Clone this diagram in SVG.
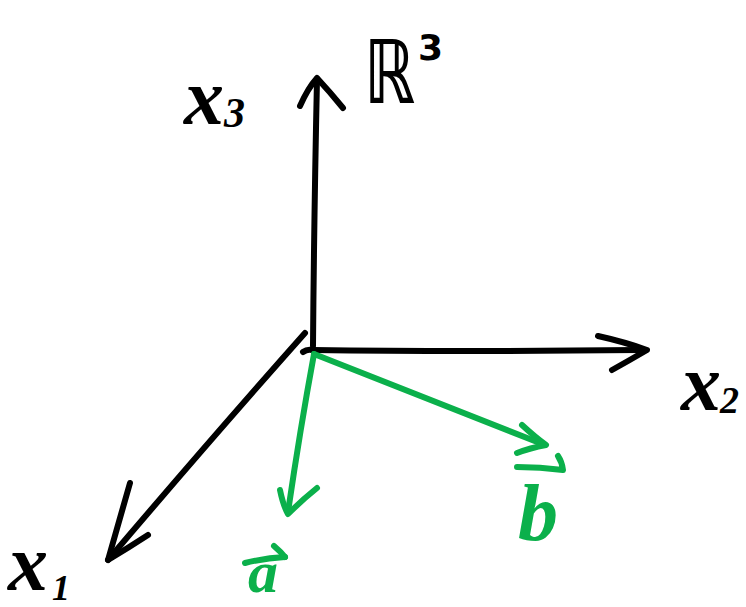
<svg xmlns="http://www.w3.org/2000/svg" width="746" height="607" viewBox="0 0 746 607">
<style>
.k{fill:none;stroke:#000;stroke-width:6;stroke-linecap:round;stroke-linejoin:round}
.g{fill:none;stroke:#0bb04b;stroke-width:6;stroke-linecap:round;stroke-linejoin:round}
.t{font-family:"Liberation Serif",serif;font-style:italic;font-weight:bold;fill:#000}
.tg{font-family:"Liberation Serif",serif;font-style:italic;font-weight:bold;fill:#0bb04b}
.r{font-family:"DejaVu Sans",sans-serif;font-weight:bold;fill:#000}
</style>
<rect width="746" height="607" fill="#fff"/>
<g id="connectors">
<g id="axis-x3"><path class="k" d="M313,346 Q314,220 317,79"/><path class="k" d="M300,106 Q308,88 317,78 Q330,92 343,108"/></g>
<g id="axis-x2"><path class="k" d="M313,350 Q460,352 640,350"/><path class="k" d="M598,336 Q625,342 647,350 Q630,360 612,370"/></g>
<g id="axis-x1"><path class="k" d="M305,333 Q210,440 108,560"/><path class="k" d="M130,483 Q118,525 108,560 Q128,548 148,535"/><path class="k" d="M303,352 Q307,349 312,350"/></g>
<g id="vec-a"><path class="g" d="M314,354 Q300,430 288,512"/><path class="g" d="M280,490 Q283,505 288,514 Q302,500 317,488"/></g>
<g id="vec-b"><path class="g" d="M314,354 Q430,400 545,445"/><path class="g" d="M522,425 Q535,437 546,445 Q530,448 517,453"/></g>
</g>
<g id="label-x3"><text class="t" x="184" y="124" font-size="80">x</text><text class="t" x="224" y="127" font-size="42">3</text></g>
<g id="label-R3"><text class="r" transform="translate(364,103) scale(0.72,1)" font-size="88">ℝ</text><text class="r" x="418" y="60" font-size="36">3</text></g>
<g id="label-x2"><text class="t" x="681" y="410" font-size="80">x</text><text class="t" x="720" y="413" font-size="38">2</text></g>
<g id="label-x1"><text class="t" x="8" y="590" font-size="80">x</text><text class="t" x="52" y="600" font-size="36">1</text></g>
<g id="label-a"><path class="g" d="M245,563 Q265,558 285,557"/><path class="g" d="M274,546 Q281,552 285,557"/><text class="tg" x="248" y="592" font-size="60">a</text></g>
<g id="label-b"><path class="g" d="M517,467 Q540,467 563,470 Q562,462 558,456"/><text class="tg" x="518" y="540" font-size="80">b</text></g>
</svg>
